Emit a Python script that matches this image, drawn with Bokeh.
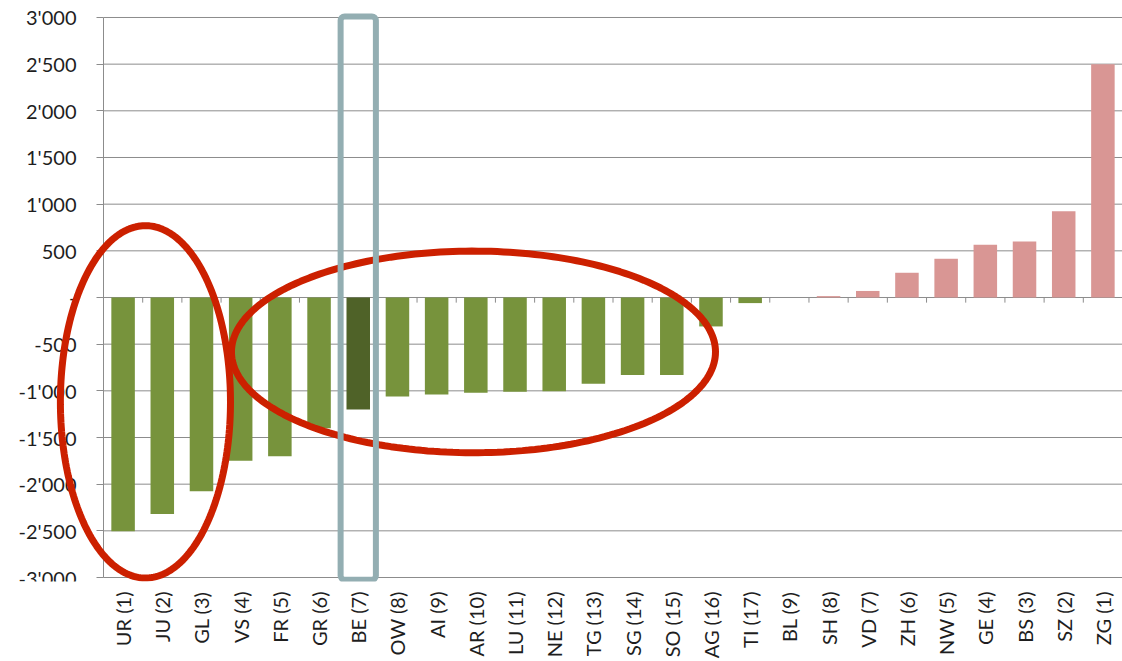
import numpy as np
from bokeh.plotting import figure
from bokeh.models import ColumnDataSource, FixedTicker, PolyAnnotation, BoxAnnotation, Range1d
from bokeh.embed import file_html
from bokeh.resources import INLINE

# ---- data -------------------------------------------------------------
cantons = ["UR (1)", "JU (2)", "GL (3)", "VS (4)", "FR (5)", "GR (6)", "BE (7)",
           "OW (8)", "AI (9)", "AR (10)", "LU (11)", "NE (12)", "TG (13)", "SG (14)",
           "SO (15)", "AG (16)", "TI (17)", "BL (9)", "SH (8)", "VD (7)", "ZH (6)",
           "NW (5)", "GE (4)", "BS (3)", "SZ (2)", "ZG (1)"]
values = [-2505, -2320, -2075, -1750, -1700, -1400, -1200,
          -1060, -1040, -1020, -1010, -1005, -925, -830,
          -830, -310, -60, 0, 15, 70, 265,
          415, 565, 600, 925, 2500]
highlight = "BE (7)"
y_ticks = list(range(-3000, 3001, 500))

# annotation shapes (data coordinates): centre x, centre y, width, height
ellipses = [(1.07, -1118, 4.34, 3775), (9.44, -583, 12.35, 2160)]

GREEN = "#77933C"
DARK = "#4F6228"
PINK = "#D99694"
RED = "#CC2000"
FRAME = "#93AEB2"
GRID = "#8C8C8C"
TEXT = "#1e1e1e"
FONT = "Lato"

W, H = 1122, 661
AXIS_PX = 103          # where the value axis sits, from the left edge
TOP, BOTTOM = 10, 79   # borders above / below the plotting frame
PX_PER_UNIT = 561 / 6000
n = len(cantons)
x_start = -n * AXIS_PX / (W - AXIS_PX)
y_hi = 3000 + (17 - TOP) / PX_PER_UNIT
y_lo = -3000 - ((H - BOTTOM) - 578) / PX_PER_UNIT

colors = [DARK if c == highlight else (PINK if v > 0 else GREEN) for c, v in zip(cantons, values)]
xs = [i + 0.5 for i in range(n)]
src = ColumnDataSource(dict(x=xs, top=values, color=colors, name=cantons))

p = figure(width=W, height=H,
           x_range=Range1d(x_start, n), y_range=Range1d(y_lo, y_hi),
           output_backend="svg", toolbar_location=None,
           min_border_left=0, min_border_right=0, min_border_top=TOP, min_border_bottom=BOTTOM)
p.outline_line_color = None
p.background_fill_color = "white"
p.border_fill_color = "white"
p.xgrid.visible = False
p.ygrid.visible = False

# horizontal gridlines spanning the category area
p.segment(x0=[0] * len(y_ticks), y0=y_ticks, x1=[n] * len(y_ticks), y1=y_ticks,
          line_color=GRID, line_width=1)

p.vbar(x="x", top="top", bottom=0, width=0.6, fill_color="color", line_color=None, source=src)

# tick marks on the zero line at category boundaries
bounds = list(range(n + 1))
p.segment(x0=bounds, y0=[0] * len(bounds), x1=bounds, y1=[-55] * len(bounds),
          line_color=GRID, line_width=1)

# y axis, placed at x = 0
p.yaxis.fixed_location = 0
p.yaxis.bounds = (-3000, 3000)
p.yaxis.ticker = FixedTicker(ticks=y_ticks)
p.yaxis.major_label_overrides = {v: ("-" if v == 0 else f"{v:,}".replace(",", "'")) for v in y_ticks}
p.yaxis.axis_line_color = GRID
p.yaxis.major_tick_line_color = GRID
p.yaxis.major_tick_out = 7
p.yaxis.major_tick_in = 0
p.yaxis.minor_tick_line_color = None
p.yaxis.major_label_standoff = 20
p.yaxis.major_label_text_font = FONT
p.yaxis.major_label_text_font_size = "20px"
p.yaxis.major_label_text_color = TEXT

# x axis
p.xaxis.ticker = FixedTicker(ticks=xs)
p.xaxis.major_label_overrides = {x: c for x, c in zip(xs, cantons)}
p.xaxis.major_label_orientation = np.pi / 2
p.xaxis.major_tick_line_color = None
p.xaxis.minor_tick_line_color = None
p.xaxis.axis_line_color = None
p.xaxis.major_label_standoff = 4
p.xaxis.major_label_text_font = FONT
p.xaxis.major_label_text_font_size = "20px"
p.xaxis.major_label_text_color = TEXT

# red ellipses
t = np.linspace(0, 2 * np.pi, 240)
for cx, cy, w, h in ellipses:
    ex = (cx + w / 2 * np.cos(t)).tolist()
    ey = (cy + h / 2 * np.sin(t)).tolist()
    p.add_layout(PolyAnnotation(xs=ex, ys=ey, fill_color=None, line_color=RED,
                                line_alpha=1.0, line_width=7))

# highlight frame around BE
hi = cantons.index(highlight) + 0.5
p.add_layout(BoxAnnotation(left=hi - 0.45, right=hi + 0.45, top=3010, bottom=-3025,
                           fill_color=None, line_color=FRAME, line_alpha=1.0,
                           line_width=6, border_radius=4))

open("out.html", "w").write(file_html(p, INLINE))
